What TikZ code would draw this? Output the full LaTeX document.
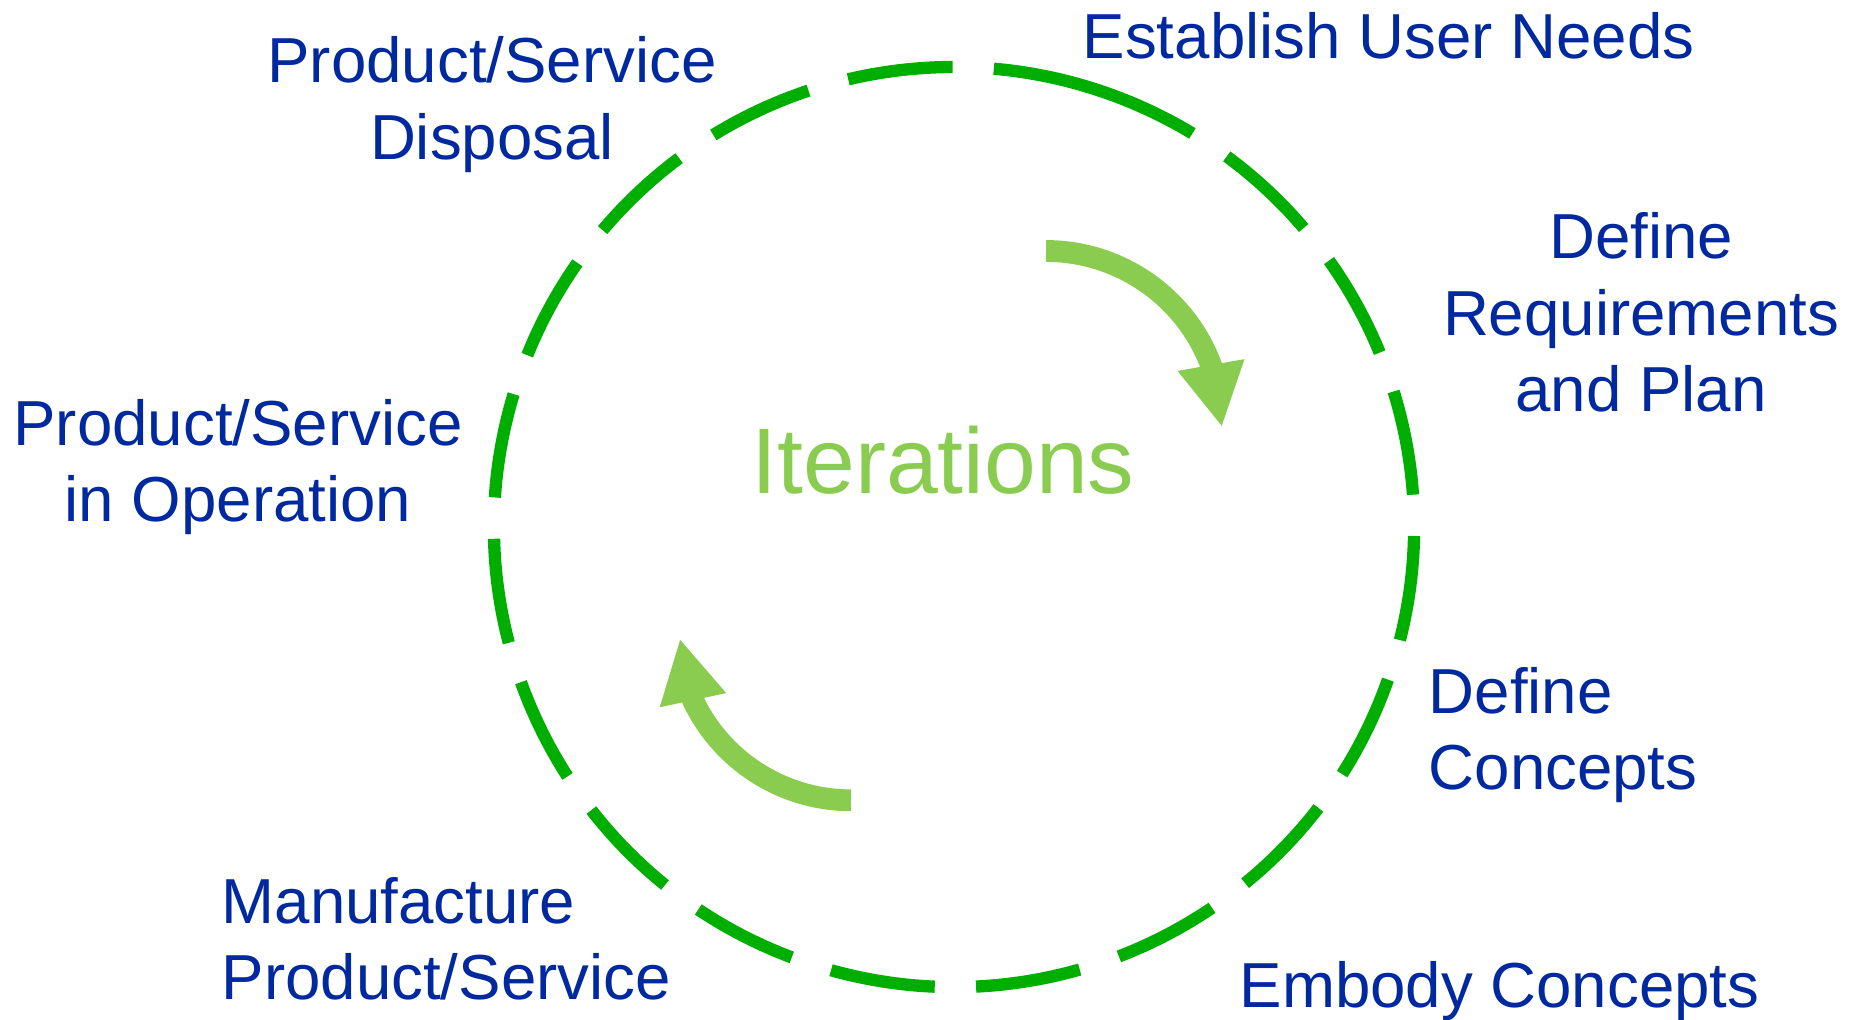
\documentclass[tikz,border=0pt]{standalone}
\usepackage{fontspec}
\setmainfont{Liberation Sans}
\usepackage {tikz}
\usetikzlibrary {positioning,arrows.meta}
\definecolor {stageblue}{RGB}{0,41,160}
\definecolor {loopgreen}{RGB}{0,174,0}
\definecolor {iterlime}{RGB}{137,204,80}

\begin{document}
\begin{tikzpicture}[
stage/.style ={text=stageblue , inner sep=0pt , font=\fontsize{18.1}{21.9}\selectfont },
ring/.style ={draw=loopgreen , line width=3.5pt , dash pattern=on 1.0528cm off 0.413cm },
turn/.style ={draw=iterlime , line width=6.2pt , -{Triangle[length=0.63cm,width=0.63cm]}}]
\useasboundingbox (0,0) rectangle (18.6,10.2);
\coordinate (hub) at (9.54,4.93);
\draw[ring] ([shift={(71.9:4.6)}]hub) arc[start angle=71.9, end angle=-288.6, radius=4.6];
\node[stage, anchor=base west] (needs) at (10.82,9.615) {Establish User Needs};
\node[stage, anchor=base, align=center] (reqs) at (16.41,6.08) {Define\\Requirements\\and Plan};
\node[stage, anchor=base west, align=left] (concepts) at (14.28,2.30) {Define\\Concepts};
\node[stage, anchor=base west] (embody) at (12.39,0.125) {Embody Concepts};
\node[stage, anchor=base west, align=left] (make) at (2.21,0.20) {Manufacture\\Product/Service};
\node[stage, anchor=base, align=center] (operate) at (2.38,4.98) {Product/Service\\in Operation};
\node[stage, anchor=base, align=center] (dispose) at (4.92,8.605) {Product/Service\\Disposal};
\node[text=iterlime, inner sep=0pt, anchor=base, font=\fontsize{26.5}{30}\selectfont] (iter) at (9.43,5.26) {Iterations};
\coordinate (cwstart) at (10.46,7.69);
\coordinate (ccwstart) at (8.51,2.197);
\draw[turn] (cwstart) arc[start angle=90, end angle=20.7, radius=1.764] -- ++(-80:0.63);
\draw[turn] (ccwstart) arc[start angle=270, end angle=205.3, radius=1.748] -- ++(102:0.63);
\end{tikzpicture}
\end{document}
